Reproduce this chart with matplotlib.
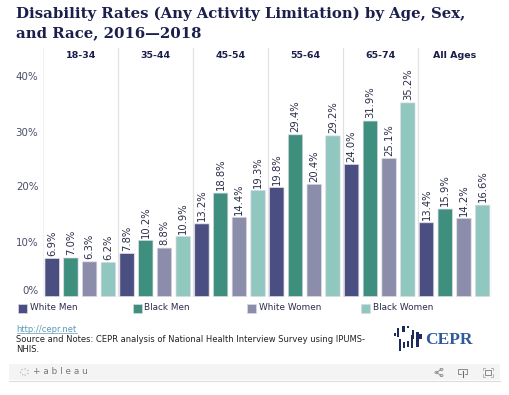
import matplotlib
matplotlib.use('Agg')
import matplotlib.pyplot as plt
from matplotlib.patches import Rectangle, Circle

groups = ['18-34', '35-44', '45-54', '55-64', '65-74', 'All Ages']
series = ['White Men', 'Black Men', 'White Women', 'Black Women']
white_men = [6.9, 7.8, 13.2, 19.8, 24.0, 13.4]
black_men = [7.0, 10.2, 18.8, 29.4, 31.9, 15.9]
white_women = [6.3, 8.8, 14.4, 20.4, 25.1, 14.2]
black_women = [6.2, 10.9, 19.3, 29.2, 35.2, 16.6]
colors = ['#4b4e80', '#3f8f7f', '#8b8dab', '#90c8bf']
yticks = [0, 10, 20, 30, 40]

W, H = 510, 395
NAVY = '#1a1f4b'
TICK = '#4a4d6a'


def fx(px):
    return px / W


def fy(py):
    return 1 - py / H


def fig_rect(x, y0, w, h, **kw):
    fig.patches.append(Rectangle((fx(x), fy(y0 + h)), w / W, h / H, transform=fig.transFigure, **kw))


def fig_line(xs, ys, **kw):
    fig.add_artist(plt.Line2D([fx(x) for x in xs], [fy(y) for y in ys], **kw))


fig = plt.figure(figsize=(W / 100, H / 100), dpi=100)
plt.rcParams['font.family'] = 'DejaVu Sans'

# plot area
ax = fig.add_axes([fx(43.3), fy(296.5), (492.5 - 43.3) / W, (296.5 - 48) / H])
ax.set_xlim(0, 6)
ax.set_ylim(0, 248.5 / 5.5)
for s in ax.spines.values():
    s.set_visible(False)
ax.set_yticks(yticks)
ax.set_yticklabels([f'{v}%' for v in yticks], fontsize=7.4, color=TICK)
ax.get_yticklabels()[0].set_va('bottom')
ax.set_xticks([])
ax.tick_params(axis='y', length=0, pad=3.5)

for d in range(1, 7):
    ax.axvline(d, color='#e2e2e2', lw=0.9, zorder=0)
ax.axvline(0, color='#f2f2f2', lw=0.9, zorder=0)

all_vals = [white_men, black_men, white_women, black_women]
for j, vals in enumerate(all_vals):
    xs = [i + (j + 0.475) / 4 for i in range(len(groups))]
    bars = ax.bar(xs, vals, width=0.192, color=colors[j], edgecolor='#d9d9e6', linewidth=0.5, zorder=2)
    for b in bars:
        b.set_snap(False)
    for x, v in zip(xs, vals):
        ax.annotate(f'{v:.1f}%', (x, v), xytext=(0, 2), textcoords='offset points',
                    rotation=90, ha='center', va='bottom', fontsize=7.2, color='#2b2d4a')

for i, g in enumerate(groups):
    ax.text(i + 0.5, 43.9, g, ha='center', va='center', fontsize=6.8, fontweight='bold', color=NAVY)

# title
fig.text(fx(16.5), fy(14), 'Disability Rates (Any Activity Limitation) by Age, Sex,',
         family='DejaVu Serif', fontweight='bold', fontsize=10.75, color=NAVY, va='center')
fig.text(fx(16.5), fy(33), 'and Race, 2016\u20142018',
         family='DejaVu Serif', fontweight='bold', fontsize=10.75, color=NAVY, va='center')

# legend
leg_x = [18.3, 132.7, 247, 361]
for x, s, c in zip(leg_x, series, colors):
    fig_rect(x, 303.7, 9, 9, facecolor=c, edgecolor='#d9d9e6', lw=0.5)
    fig.text(fx(x + 11.7), fy(307.5), s, fontsize=6.4, color='#2b2d4a', va='center')

# footer
fig.text(fx(16.5), fy(329.3), 'http://cepr.net', fontsize=6, color='#5b9bb8', va='center')
fig_line([16.5, 76.7], [333.3, 333.3], color='#5b9bb8', lw=0.5)
fig.text(fx(16.5), fy(339), 'Source and Notes: CEPR analysis of National Health Interview Survey using IPUMS-',
         fontsize=6.07, color='#222222', va='center')
fig.text(fx(16.5), fy(349.3), 'NHIS.', fontsize=6.07, color='#222222', va='center')

# logo
fig.text(fx(425.5), fy(339.5), 'CEPR', family='Liberation Serif', fontweight='bold', fontsize=12.5,
         color='#2f5a9e', va='center')
logo_bars = [(395, 333, 336), (398, 328, 337), (403.3, 326, 332), (408, 326, 328), (413, 330, 339),
             (417.3, 332, 347), (420.7, 334, 339), (400, 339, 351), (404, 342, 348), (407.7, 341, 347),
             (412, 335, 348)]
for x, y0, y1 in logo_bars:
    fig_rect(x - 1.2, y0, 2.4, y1 - y0, facecolor='#1f2a5c', edgecolor='none')

# tableau toolbar
fig_rect(9, 364, 491, 16, facecolor='#f4f4f4', edgecolor='none')
fig_line([9, 500], [380.5, 380.5], color='#dcdcdc', lw=0.8)
fig.patches.append(Circle((fx(24.5), fy(372)), 4 / W, transform=fig.transFigure,
                          facecolor='none', edgecolor='#b5b5b5', lw=0.9, ls=':'))
fig.text(fx(33), fy(372), '+ a b l e a u', fontsize=6.4, color='#777777', va='center')
icon = '#8a8a8a'
# share
fig_line([441, 436.5, 441], [369.5, 372.5, 375.5], color=icon, lw=0.6)
for cx, cy in [(441.5, 369.5), (436.5, 372.5), (441.5, 375.5)]:
    fig.patches.append(Circle((fx(cx), fy(cy)), 1.5 / W, transform=fig.transFigure,
                              facecolor='#f4f4f4', edgecolor=icon, lw=0.6))
# download
fig_line([461, 458.5, 458.5, 467.5, 467.5, 465], [374, 374, 368.5, 368.5, 374, 374], color=icon, lw=0.7)
fig_line([463, 463], [371, 377], color='#666666', lw=0.8)
# full screen
fig_rect(485.5, 369.5, 6, 5, facecolor='none', edgecolor=icon, lw=0.7)
for x, y, dx, dy in [(483, 367.5, 2.5, 2.5), (493.5, 367.5, -2.5, 2.5), (483, 376.5, 2.5, -2.5), (493.5, 376.5, -2.5, -2.5)]:
    fig_line([x + dx, x, x], [y, y, y + dy], color='#aaaaaa', lw=0.6)

fig.savefig('out.png', dpi=100)
plt.close()
